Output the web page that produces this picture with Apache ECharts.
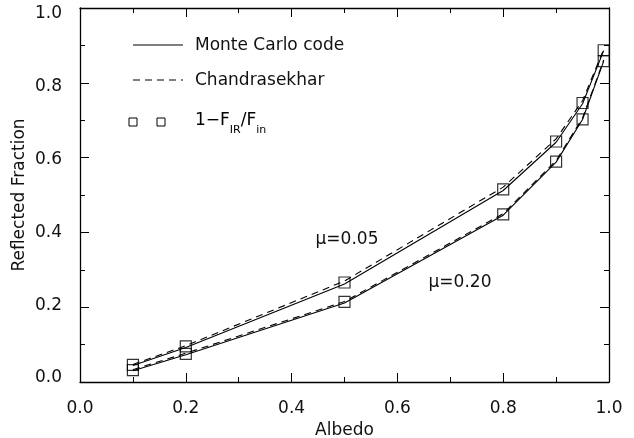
<!DOCTYPE html>
<html>
<head>
<meta charset="utf-8">
<script src="https://cdn.jsdelivr.net/npm/echarts@6/dist/echarts.min.js"></script>
<style>
  html, body { margin: 0; padding: 0; background: #fff; }
  #chart { width: 634px; height: 438px; }
</style>
</head>
<body>
<div id="chart"></div>
<script>
// Albedo values where the reflected fraction was evaluated
const albedo = [0.1, 0.2, 0.5, 0.8, 0.9, 0.95, 0.99];

// mu = 0.05
const monteCarlo005   = [0.044, 0.092, 0.262, 0.512, 0.641, 0.744, 0.886];
const chandra005      = [0.047, 0.097, 0.270, 0.521, 0.650, 0.752, 0.890];
const fluxRatio005    = [0.046, 0.095, 0.266, 0.515, 0.643, 0.746, 0.887];

// mu = 0.20
const monteCarlo020   = [0.030, 0.073, 0.211, 0.446, 0.588, 0.702, 0.858];
const chandra020      = [0.033, 0.077, 0.215, 0.450, 0.592, 0.706, 0.861];
const fluxRatio020    = [0.032, 0.075, 0.214, 0.448, 0.589, 0.702, 0.858];

const xTicks = [0.0, 0.2, 0.4, 0.6, 0.8, 1.0];
const yTicks = [0.0, 0.2, 0.4, 0.6, 0.8, 1.0];

const FONT = 'DejaVu Sans';
const INK = '#000';

const pairs = (xs, ys) => xs.map((x, i) => [x, ys[i]]);

function lineSeries(ys, dashed) {
  return {
    type: 'line',
    data: pairs(albedo, ys),
    showSymbol: false,
    symbol: 'none',
    silent: true,
    animation: false,
    lineStyle: { color: INK, width: 1.1, type: dashed ? [7, 5] : 'solid' },
    z: 2
  };
}

function squareSeries(ys) {
  return {
    type: 'scatter',
    data: pairs(albedo, ys),
    symbol: 'rect',
    symbolSize: 11,
    silent: true,
    animation: false,
    itemStyle: { color: 'rgba(0,0,0,0)', borderColor: INK, borderWidth: 1.2 },
    z: 3
  };
}

const tickLabel = { fontFamily: FONT, fontSize: 17, color: '#111' };

// y tick labels sit slightly inside the frame: nudge each one toward the middle
const yLabelRich = {};
yTicks.forEach((v, i) => {
  const d = Math.round(-4 + 10 * v);       // + moves down, - moves up
  yLabelRich['y' + i] = Object.assign({}, tickLabel,
    { padding: d >= 0 ? [2 * d, 0, 0, 0] : [0, 0, -2 * d, 0] });
});

const baseAxis = {
  min: 0, max: 1, interval: 0.2,
  axisLine: { show: true, onZero: false, lineStyle: { color: INK, width: 1.3 } },
  axisTick: { show: true, inside: true, length: 9, lineStyle: { color: INK, width: 1 } },
  minorTick: { show: true, splitNumber: 2, length: 5, lineStyle: { color: INK, width: 1 } },
  splitLine: { show: false },
  minorSplitLine: { show: false }
};

const chart = echarts.init(document.getElementById('chart'), null, { renderer: 'canvas' });

chart.setOption({
  backgroundColor: '#fff',
  animation: false,
  grid: { left: 80, right: 25, top: 8, bottom: 56, containLabel: false, outerBoundsMode: 'none' },
  xAxis: [
    Object.assign({}, baseAxis, {
      type: 'value', position: 'bottom',
      name: 'Albedo', nameLocation: 'middle', nameGap: 40,
      nameMoveOverlap: false,
      nameTextStyle: { fontFamily: FONT, fontSize: 17, color: '#111' },
      axisLabel: Object.assign({ margin: 18, formatter: v => v.toFixed(1),
        customValues: xTicks }, tickLabel)
    }),
    Object.assign({}, baseAxis, {
      type: 'value', position: 'top',
      axisLabel: { show: false }
    })
  ],
  yAxis: [
    Object.assign({}, baseAxis, {
      type: 'value', position: 'left',
      name: 'Reflected Fraction', nameLocation: 'middle', nameGap: 52,
      nameRotate: 90, nameMoveOverlap: false,
      nameTextStyle: { fontFamily: FONT, fontSize: 17, color: '#111' },
      axisLabel: Object.assign({ margin: 18,
        formatter: v => {
          const i = yTicks.findIndex(t => Math.abs(t - v) < 1e-6);
          return '{y' + i + '|' + v.toFixed(1) + '}';
        },
        rich: yLabelRich,
        customValues: yTicks }, tickLabel)
    }),
    Object.assign({}, baseAxis, {
      type: 'value', position: 'right',
      axisLabel: { show: false }
    })
  ],
  series: [
    lineSeries(monteCarlo005, false),
    lineSeries(chandra005, true),
    squareSeries(fluxRatio005),
    lineSeries(monteCarlo020, false),
    lineSeries(chandra020, true),
    squareSeries(fluxRatio020)
  ],
  graphic: [
    // key: solid line
    { type: 'line', shape: { x1: 133, y1: 45, x2: 183, y2: 45 },
      style: { stroke: INK, lineWidth: 1.1 }, silent: true },
    { type: 'text', x: 195, y: 46,
      style: { text: 'Monte Carlo code', font: '17px "DejaVu Sans"', fill: '#111', verticalAlign: 'middle' } },
    // key: dashed line
    { type: 'line', shape: { x1: 133, y1: 80, x2: 183, y2: 80 },
      style: { stroke: INK, lineWidth: 1.1, lineDash: [7, 5] }, silent: true },
    { type: 'text', x: 195, y: 81,
      style: { text: 'Chandrasekhar', font: '17px "DejaVu Sans"', fill: '#111', verticalAlign: 'middle' } },
    // key: squares
    { type: 'rect', shape: { x: 129, y: 118, width: 8, height: 8 },
      style: { fill: 'none', stroke: INK, lineWidth: 1 }, silent: true },
    { type: 'rect', shape: { x: 157, y: 118, width: 8, height: 8 },
      style: { fill: 'none', stroke: INK, lineWidth: 1 }, silent: true },
    { type: 'text', x: 195, y: 124,
      style: {
        text: '{m|1\u2212F}{s|IR}{m|/F}{s|in}',
        verticalAlign: 'middle',
        rich: {
          m: { fontFamily: FONT, fontSize: 17, color: '#111', lineHeight: 24, verticalAlign: 'top' },
          s: { fontFamily: FONT, fontSize: 11, color: '#111', lineHeight: 24, verticalAlign: 'bottom' }
        }
      } },
    // curve annotations
    { type: 'text', x: 347, y: 240,
      style: { text: '\u03bc=0.05', font: '17px "DejaVu Sans"', fill: '#111', align: 'center', verticalAlign: 'middle' } },
    { type: 'text', x: 460, y: 283,
      style: { text: '\u03bc=0.20', font: '17px "DejaVu Sans"', fill: '#111', align: 'center', verticalAlign: 'middle' } }
  ]
});
</script>
</body>
</html>
